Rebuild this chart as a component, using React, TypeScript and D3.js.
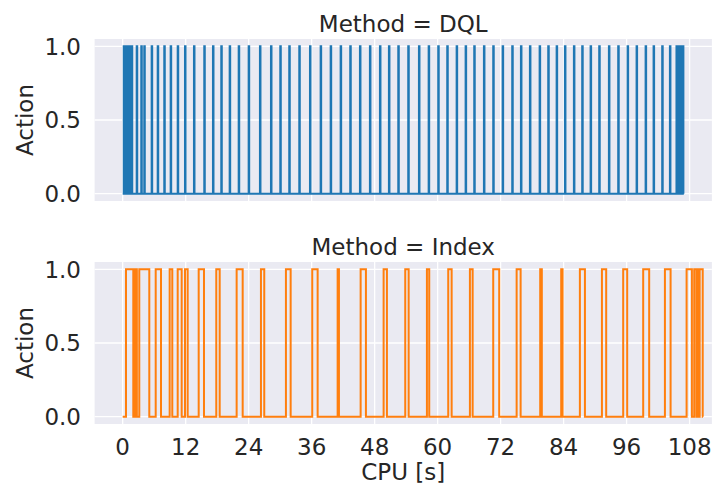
import React from "react";
import * as d3 from "d3";

// Action switching over CPU time for two control methods.
// Each pulse is [switch-on time, switch-off time] in seconds.
const dqlPulses: [number, number][] = [
  [0.2, 0.32], [0.5, 0.62], [0.8, 0.92], [1.1, 1.22], [1.4, 1.52], [1.7, 1.82],
  [2.67, 2.77], [3.54, 3.64], [4.11, 4.21], [5.52, 5.62], [6.67, 6.77], [7.92, 8.02],
  [9.14, 9.24], [10.48, 10.58], [11.87, 11.97], [13.58, 13.68], [15.54, 15.64], [17.2, 17.3],
  [18.78, 18.88], [20.38, 20.48], [22.1, 22.2], [24.0, 24.1], [26.15, 26.25], [28.25, 28.35],
  [30.02, 30.12], [31.73, 31.83], [33.64, 33.74], [35.68, 35.78], [37.71, 37.81], [39.62, 39.72],
  [41.52, 41.62], [43.35, 43.45], [45.2, 45.3], [47.1, 47.2], [49.01, 49.11], [50.72, 50.82],
  [52.5, 52.6], [54.4, 54.5], [56.44, 56.54], [58.29, 58.39], [60.11, 60.21], [61.83, 61.93],
  [63.62, 63.72], [65.33, 65.43], [66.97, 67.07], [68.82, 68.92], [70.59, 70.69], [72.38, 72.48],
  [74.21, 74.31], [75.87, 75.97], [77.58, 77.68], [79.43, 79.53], [81.07, 81.17], [82.67, 82.77],
  [84.25, 84.35], [85.96, 86.06], [87.54, 87.64], [89.14, 89.24], [90.78, 90.88], [92.63, 92.73],
  [94.4, 94.5], [96.19, 96.29], [97.9, 98.0], [99.62, 99.72], [101.14, 101.24], [102.78, 102.88],
  [104.25, 104.35], [105.5, 105.62], [105.8, 105.92], [106.1, 106.22], [106.4, 106.52], [106.7, 106.82],
];
const dqlEnd = 106.9;

const indexPulses: [number, number][] = [
  [0.63, 2.02], [2.4, 2.7], [3.16, 5.07], [6.29, 7.3], [8.95, 9.45], [10.48, 11.24],
  [11.87, 12.38], [14.48, 15.49], [17.83, 18.48], [21.71, 22.86], [26.34, 26.97], [31.1, 32.0],
  [36.11, 37.14], [40.95, 41.2], [45.33, 46.34], [49.71, 50.34], [53.83, 54.48], [57.96, 58.4],
  [62.02, 62.67], [66.15, 66.67], [70.59, 71.73], [75.05, 75.81], [79.54, 79.85], [83.54, 83.8],
  [87.1, 88.06], [91.3, 92.11], [95.35, 96.11], [99.16, 100.3], [103.3, 104.38], [107.43, 108.44],
  [108.88, 109.3], [109.42, 109.8], [109.92, 110.5],
];
const indexEnd = 110.55;

const xTicks = [0, 12, 24, 36, 48, 60, 72, 84, 96, 108];
const yTicks = [0, 0.5, 1];

const panels = [
  { title: "Method = DQL", pulses: dqlPulses, end: dqlEnd, color: "#1f77b4" },
  { title: "Method = Index", pulses: indexPulses, end: indexEnd, color: "#ff7f0e" },
];

const W = 723;
const H = 489;
const left = 94.6;
const right = 711.9;
const panelTops = [39, 262];
const panelH = 162;
const fs = 23;
const textColor = "#262626";
const font = "DejaVu Sans, sans-serif";

function toSteps(pulses: [number, number][], end: number): [number, number][] {
  const pts: [number, number][] = [[0, 0]];
  pulses.forEach(([on, off]) => {
    pts.push([on, 1]);
    pts.push([off, 0]);
  });
  pts.push([end, 0]);
  return pts;
}

export default function App() {
  const x = d3.scaleLinear().domain([-5.35, 112.25]).range([left, right]);

  return (
    <svg
      width={W}
      height={H}
      style={{ position: "absolute", left: 0, top: 0, background: "#fff" }}
      fontFamily={font}
    >
      {panels.map((p, i) => {
        const top = panelTops[i];
        const y = d3.scaleLinear().domain([-0.05, 1.05]).range([top + panelH, top]);
        const line = d3
          .line<[number, number]>()
          .x((d) => x(d[0]))
          .y((d) => y(d[1]))
          .curve(d3.curveStepAfter);
        const steps = toSteps(p.pulses, p.end);
        return (
          <g key={p.title}>
            <rect x={left} y={top} width={right - left} height={panelH} fill="#eaeaf2" />
            {xTicks.map((t) => (
              <line key={"gx" + t} x1={x(t)} x2={x(t)} y1={top} y2={top + panelH} stroke="#fff" strokeWidth={1.3} />
            ))}
            {yTicks.map((t) => (
              <line key={"gy" + t} x1={left} x2={right} y1={y(t)} y2={y(t)} stroke="#fff" strokeWidth={1.3} />
            ))}
            <path d={line(steps) ?? ""} fill="none" stroke={p.color} strokeWidth={2} strokeLinejoin="miter" />
            {yTicks.map((t) => (
              <text key={"ty" + t} x={81} y={y(t) + fs * 0.365} textAnchor="end" fontSize={fs} fill={textColor}>
                {d3.format(".1f")(t)}
              </text>
            ))}
            <text
              transform={`translate(33,${top + panelH / 2}) rotate(-90)`}
              textAnchor="middle"
              fontSize={fs}
              fill={textColor}
            >
              Action
            </text>
            <text x={(left + right) / 2} y={top - 7.3} textAnchor="middle" fontSize={fs} fill={textColor}>
              {p.title}
            </text>
            {i === panels.length - 1 &&
              xTicks.map((t) => (
                <text key={"tx" + t} x={x(t)} y={455} textAnchor="middle" fontSize={fs} fill={textColor}>
                  {t}
                </text>
              ))}
          </g>
        );
      })}
      <text x={(left + right) / 2} y={480} textAnchor="middle" fontSize={fs} fill={textColor}>
        CPU [s]
      </text>
    </svg>
  );
}
